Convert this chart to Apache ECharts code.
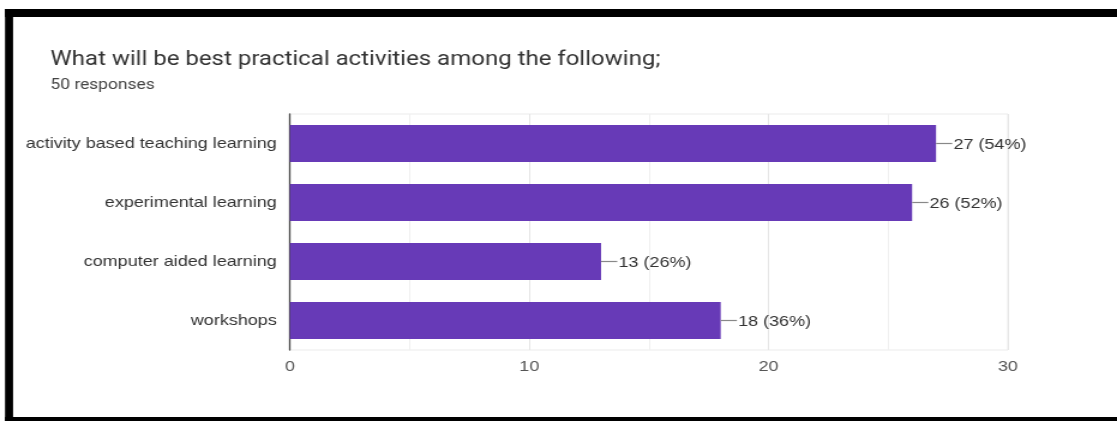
<!DOCTYPE html>
<html>
<head>
<meta charset="utf-8">
<script src="https://cdn.jsdelivr.net/npm/echarts@6/dist/echarts.min.js"></script>
<style>
  html, body { margin: 0; padding: 0; background: #fff; overflow: hidden; }
  #wrap { width: 1117px; height: 421px; overflow: hidden; position: relative; }
  /* the figure is drawn on a narrower canvas and widened to the full page width */
  #chart { width: 931px; height: 421px; transform: scaleX(1.19979); transform-origin: 0 0; }
</style>
</head>
<body>
<div id="wrap"><div id="chart"></div></div>
<script>
// Survey question and answer counts
const titleText = 'What will be best practical activities among the following;';
const subtitleText = '50 responses';
const totalResponses = 50;
const categories = [
  'activity based teaching learning',
  'experimental learning',
  'computer aided learning',
  'workshops'
];
const counts = [27, 26, 13, 18];
const xTicks = [0, 10, 20, 30];

const chart = echarts.init(document.getElementById('chart'), null, { renderer: 'canvas' });

const labelFont = '"Liberation Sans", Arial, sans-serif';
const titleFont = 'Roboto, "Noto Sans", sans-serif';

const option = {
  backgroundColor: '#fff',
  animation: false,
  title: [
    {
      text: titleText,
      left: 37, top: 45,
      textStyle: { fontFamily: titleFont, fontSize: 20, fontWeight: 'normal', color: '#333' }
    },
    {
      text: subtitleText,
      left: 37, top: 73,
      textStyle: { fontFamily: titleFont, fontSize: 14.5, fontWeight: 'normal', color: '#444' }
    }
  ],
  grid: {
    left: 241.7, right: 91, top: 114, bottom: 71,
    show: true, borderColor: '#ebebeb', borderWidth: 1
  },
  xAxis: {
    type: 'value',
    min: xTicks[0], max: xTicks[xTicks.length - 1], interval: 10,
    axisLine: { show: false },
    axisTick: { show: false },
    axisLabel: { color: '#555', fontFamily: labelFont, fontSize: 15, margin: 9 },
    splitLine: { show: true, lineStyle: { color: '#e6e6e6', width: 1 } },
    minorTick: { show: false, splitNumber: 2 },
    minorSplitLine: { show: true, lineStyle: { color: '#f0f0f0', width: 1 } }
  },
  yAxis: {
    type: 'category',
    data: categories,
    inverse: true,
    axisLine: { show: true, lineStyle: { color: '#444', width: 1.3 } },
    axisTick: { show: false },
    axisLabel: { color: '#333', fontFamily: labelFont, fontSize: 15, margin: 11, padding: [3, 0, 0, 0] },
    splitLine: { show: false }
  },
  series: [{
    type: 'bar',
    data: counts,
    barWidth: 37,
    itemStyle: { color: '#673ab7' },
    label: {
      show: true,
      position: 'right',
      distance: 0,
      formatter: p => '{ln|}{v|' + p.value + ' (' + Math.round(p.value / totalResponses * 100) + '%)}',
      rich: {
        ln: { width: 13.5, height: 1.2, backgroundColor: '#888', verticalAlign: 'middle' },
        v: { color: '#333', fontFamily: labelFont, fontSize: 15, padding: [3, 0, 0, 1] }
      }
    }
  }],
  graphic: [
    // black frame around the figure
    { type: 'rect', shape: { x: 4.2, y: 9, width: 930, height: 8 }, style: { fill: '#000' }, silent: true },
    { type: 'rect', shape: { x: 4.2, y: 9, width: 6.7, height: 412 }, style: { fill: '#000' }, silent: true },
    { type: 'rect', shape: { x: 4.2, y: 417, width: 930, height: 4 }, style: { fill: '#000' }, silent: true }
  ]
};

chart.setOption(option);
</script>
</body>
</html>
